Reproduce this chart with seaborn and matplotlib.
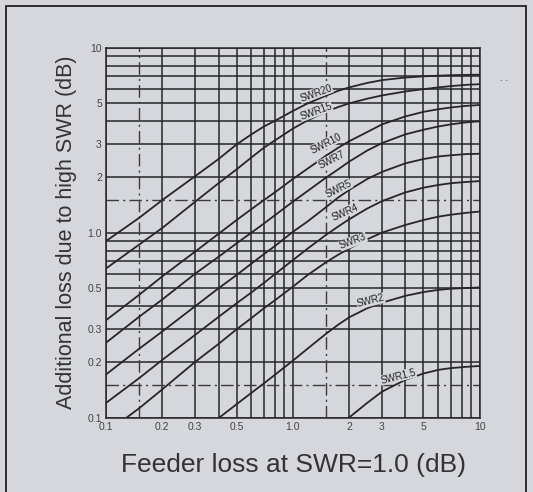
import numpy as np
import pandas as pd
import matplotlib
matplotlib.use("Agg")
import matplotlib.pyplot as plt
import seaborn as sns

# Feeder loss (dB) sample points
feeder_x = [0.1, 0.15, 0.2, 0.3, 0.4, 0.5, 0.6, 0.7, 0.8, 1.0, 1.2, 1.5, 1.75,
            2, 2.5, 3, 4, 5, 6, 7, 8.5, 10]

swr20 = [0.9, 1.2, 1.5, 2.02, 2.5, 3.0, 3.4, 3.75, 4.02, 4.55, 5.0, 5.5, 5.85,
         6.1, 6.45, 6.68, 6.9, 7.0, 7.06, 7.1, 7.13, 7.15]
swr15 = [0.64, 0.86, 1.06, 1.47, 1.85, 2.2, 2.55, 2.88, 3.15, 3.65, 4.05, 4.5, 4.78,
         5.0, 5.3, 5.52, 5.8, 5.97, 6.1, 6.2, 6.3, 6.35]
swr10 = [0.336, 0.46, 0.58, 0.79, 0.985, 1.17, 1.34, 1.5, 1.65, 1.95, 2.22, 2.6, 2.88,
         3.12, 3.5, 3.85, 4.25, 4.5, 4.65, 4.75, 4.85, 4.9]
swr7 = [0.254, 0.35, 0.435, 0.6, 0.74, 0.875, 1.0, 1.12, 1.24, 1.47, 1.68, 1.98, 2.2,
        2.42, 2.78, 3.05, 3.4, 3.6, 3.75, 3.85, 3.95, 4.0]
swr5 = [0.171, 0.235, 0.292, 0.4, 0.5, 0.59, 0.68, 0.765, 0.845, 1.01, 1.15, 1.37, 1.55,
        1.7, 1.95, 2.13, 2.37, 2.5, 2.58, 2.62, 2.66, 2.67]
swr4 = [0.12, 0.163, 0.205, 0.28, 0.35, 0.415, 0.475, 0.535, 0.595, 0.71, 0.82, 0.97, 1.08,
        1.18, 1.35, 1.48, 1.65, 1.75, 1.81, 1.85, 1.88, 1.9]

swr3_x = [0.129, 0.15, 0.2, 0.3, 0.4, 0.5, 0.6, 0.7, 0.8, 1.0, 1.2, 1.5, 1.75,
          2, 2.5, 3, 4, 5, 6, 7, 8.5, 10]
swr3 = [0.1, 0.112, 0.142, 0.2, 0.25, 0.3, 0.345, 0.39, 0.43, 0.51, 0.59, 0.69, 0.76,
        0.82, 0.92, 1.0, 1.1, 1.17, 1.22, 1.25, 1.28, 1.3]

swr2_x = [0.404, 0.5, 0.6, 0.7, 0.8, 1.0, 1.2, 1.5, 1.75, 2, 2.5, 3, 4, 5, 6, 7, 8.5, 10]
swr2 = [0.1, 0.118, 0.136, 0.153, 0.17, 0.203, 0.236, 0.283, 0.318, 0.348, 0.39, 0.418,
        0.455, 0.477, 0.49, 0.497, 0.502, 0.505]

swr1_5_x = [2, 2.5, 3, 4, 5, 6, 7, 8.5, 10]
swr1_5 = [0.1, 0.12, 0.138, 0.16, 0.173, 0.181, 0.185, 0.188, 0.19]

# curve labels: text, x, y, rotation
label_names = ["SWR20", "SWR15", "SWR10", "SWR7", "SWR5", "SWR4", "SWR3", "SWR2", "SWR1.5"]
label_x = [1.33, 1.33, 1.5, 1.61, 1.75, 1.9, 2.1, 2.61, 3.66]
label_y = [5.68, 4.53, 3.03, 2.48, 1.72, 1.29, 0.896, 0.427, 0.167]
label_rot = [20, 20, 27, 27, 27, 24, 21, 14, 14]

x_ticks = [0.1, 0.2, 0.3, 0.5, 1.0, 2, 3, 5, 10]
x_tick_labels = ["0.1", "0.2", "0.3", "0.5", "1.0", "2", "3", "5", "10"]
y_ticks = [0.1, 0.2, 0.3, 0.5, 1.0, 2, 3, 5, 10]
y_tick_labels = ["0.1", "0.2", "0.3", "0.5", "1.0", "2", "3", "5", "10"]

grid_solid = [0.1, 0.2, 0.3, 0.4, 0.5, 0.6, 0.7, 0.8, 0.9, 1, 2, 3, 4, 5, 6, 7, 8, 9, 10]
grid_dashed = [0.15, 1.5]

BG = "#d5d7dc"
INK = "#262626"

frames = []
for name, xs, ys in [("SWR20", feeder_x, swr20), ("SWR15", feeder_x, swr15),
                     ("SWR10", feeder_x, swr10), ("SWR7", feeder_x, swr7),
                     ("SWR5", feeder_x, swr5), ("SWR4", feeder_x, swr4),
                     ("SWR3", swr3_x, swr3), ("SWR2", swr2_x, swr2),
                     ("SWR1.5", swr1_5_x, swr1_5)]:
    frames.append(pd.DataFrame({"feeder": xs, "extra": ys, "swr": name}))
df = pd.concat(frames, ignore_index=True)

sns.set_theme(style="white")
plt.rcParams["font.family"] = ["Liberation Sans", "DejaVu Sans"]

fig = plt.figure(figsize=(5.33, 4.92), dpi=100, facecolor=BG)
ax = fig.add_axes([0.199, 0.1514, 0.701, 0.7516])
ax.set_facecolor(BG)
ax.set_xscale("log")
ax.set_yscale("log")
ax.set_xlim(0.1, 10)
ax.set_ylim(0.1, 10)

# chart grid
for g in grid_solid:
    ax.axvline(g, color=INK, lw=1.1, zorder=1)
    ax.axhline(g, color=INK, lw=1.1, zorder=1)
for g in grid_dashed:
    ax.axvline(g, color="#3a3a3a", lw=1.0, ls=(0, (9, 3, 1.5, 3)), zorder=1)
    ax.axhline(g, color="#3a3a3a", lw=1.0, ls=(0, (9, 3, 1.5, 3)), zorder=1)

palette = {n: INK for n in df["swr"].unique()}
sns.lineplot(data=df, x="feeder", y="extra", hue="swr", palette=palette,
             legend=False, lw=1.3, ax=ax, zorder=3, estimator=None, sort=False)

for name, lx, ly, rot in zip(label_names, label_x, label_y, label_rot):
    ax.text(lx, ly, name, fontsize=7, rotation=rot,
            ha="center", va="center", color="#222222", zorder=4,
            bbox=dict(facecolor=BG, edgecolor="none", pad=0.2))

ax.set_xticks(x_ticks)
ax.set_xticklabels(x_tick_labels)
ax.set_yticks(y_ticks)
ax.set_yticklabels(y_tick_labels)
ax.minorticks_off()
ax.tick_params(axis="both", length=0, labelsize=7.5, colors="#444444", pad=3)

for s in ax.spines.values():
    s.set_color(INK)
    s.set_linewidth(1.1)

ax.set_xlabel("")
ax.set_ylabel("")
fig.text(0.551, 0.055, "Feeder loss at SWR=1.0 (dB)", ha="center", va="center",
         fontsize=19, color="#333333")
fig.text(0.124, 0.527, "Additional loss due to high SWR (dB)", ha="center", va="center",
         rotation=90, fontsize=15.5, color="#333333")

# specks on the scanned page
fig.text(0.945, 0.835, ". .", fontsize=7, color="#333333", ha="center")

# outer frame of the scanned page
fig.add_artist(plt.Rectangle((6 / 533, -0.05), 520 / 533, 1 - 6 / 492 + 0.05,
                             transform=fig.transFigure, fill=False,
                             edgecolor="#222222", lw=1.3))

fig.savefig("out.png", dpi=100, facecolor=BG)
